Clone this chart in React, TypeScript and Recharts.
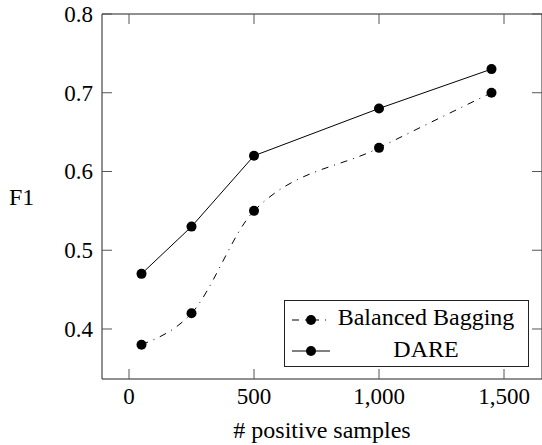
import React from 'react';
import { LineChart, Line, XAxis, YAxis, Legend } from 'recharts';

const samples = [50, 250, 500, 1000, 1450];
const baggingF1 = [0.38, 0.42, 0.55, 0.63, 0.7];
const dareF1 = [0.47, 0.53, 0.62, 0.68, 0.73];
const xTicks = [0, 500, 1000, 1500];
const yTicks = [0.4, 0.5, 0.6, 0.7, 0.8];
const seriesNames = ['Balanced Bagging', 'DARE'];
const xLabel = '# positive samples';
const yLabel = 'F1';

const data = samples.map((x, i) => ({ x, bagging: baggingF1[i], dare: dareF1[i] }));

const FONT = 'Liberation Serif, Times New Roman, serif';
const AXIS = '#222';
const TICK = '#555';
const TICK_LEN = 10;
const DASH = '7 6 1 6';
const FS = 23;
const txtStyle = { fontFamily: FONT, fontSize: FS };

const fmtX = (v: number) => v.toLocaleString('en-US');

const BottomTick = (props: any) => {
  const { x, y, payload } = props;
  return (
    <g>
      <line x1={x} x2={x} y1={y} y2={y - TICK_LEN} stroke={TICK} strokeWidth={1} />
      <text x={x} y={y + 25} textAnchor="middle" style={txtStyle} fill="#000">
        {fmtX(payload.value)}
      </text>
    </g>
  );
};

const TopTick = (props: any) => {
  const { x, y } = props;
  return <line x1={x} x2={x} y1={y} y2={y + TICK_LEN} stroke={TICK} strokeWidth={1} />;
};

const LeftTick = (props: any) => {
  const { x, y, payload } = props;
  return (
    <g>
      <line x1={x} x2={x + TICK_LEN} y1={y} y2={y} stroke={TICK} strokeWidth={1} />
      <text x={x - 9} y={y + 8} textAnchor="end" style={txtStyle} fill="#000">
        {Number(payload.value).toFixed(1)}
      </text>
    </g>
  );
};

const RightTick = (props: any) => {
  const { x, y } = props;
  return <line x1={x} x2={x - TICK_LEN} y1={y} y2={y} stroke={TICK} strokeWidth={1} />;
};

const LegendBox = (props: any) => {
  const payload = props.payload || [];
  return (
    <svg width={245} height={67} style={{ display: 'block' }}>
      <rect x={0.5} y={0.5} width={244} height={66} fill="#fff" stroke={AXIS} strokeWidth={1} />
      {payload.map((e: any, i: number) => {
        const cy = i === 0 ? 20 : 51;
        const ty = i === 0 ? 25 : 57;
        const dash = e.payload && e.payload.strokeDasharray;
        return (
          <g key={i}>
            <line x1={8} x2={46} y1={cy} y2={cy} stroke="#000" strokeWidth={1} strokeDasharray={dash} />
            <circle cx={27} cy={cy} r={5} fill="#000" />
            <text x={142} y={ty} textAnchor="middle" style={{ fontFamily: FONT, fontSize: 24 }} fill="#000">
              {e.value}
            </text>
          </g>
        );
      })}
    </svg>
  );
};

export default function App() {
  return (
    <div style={{ position: 'absolute', left: 0, top: 0, width: 542, height: 445, overflow: 'hidden', background: '#fff', fontFamily: FONT }}>
      <LineChart width={552} height={445} data={data} margin={{ top: 4, right: 0, left: 0, bottom: 0 }} style={{ fontFamily: FONT }}>
        <XAxis
          xAxisId="b"
          dataKey="x"
          type="number"
          domain={[-108, 1652]}
          ticks={xTicks}
          allowDataOverflow
          orientation="bottom"
          height={66}
          axisLine={{ stroke: AXIS, strokeWidth: 1 }}
          tickLine={false}
          tickSize={0}
          tickMargin={0}
          tick={<BottomTick />}
          interval={0}
          label={{ value: xLabel, position: 'insideBottom', offset: 7, style: { fontFamily: FONT, fontSize: 24 }, fill: '#000' }}
        />
        <XAxis
          xAxisId="t"
          dataKey="x"
          type="number"
          domain={[-108, 1652]}
          ticks={xTicks}
          allowDataOverflow
          orientation="top"
          height={10}
          axisLine={{ stroke: AXIS, strokeWidth: 1 }}
          tickLine={false}
          tickSize={0}
          tickMargin={0}
          tick={<TopTick />}
          interval={0}
        />
        <YAxis
          yAxisId="l"
          type="number"
          domain={[0.3365, 0.8]}
          ticks={yTicks}
          allowDataOverflow
          orientation="left"
          width={102}
          axisLine={{ stroke: AXIS, strokeWidth: 1 }}
          tickLine={false}
          tickSize={0}
          tickMargin={0}
          tick={<LeftTick />}
          interval={0}
          label={{ value: yLabel, position: 'insideLeft', offset: 9, style: { fontFamily: FONT, fontSize: 24 }, fill: '#000' }}
        />
        <YAxis
          yAxisId="r"
          type="number"
          domain={[0.3365, 0.8]}
          ticks={yTicks}
          allowDataOverflow
          orientation="right"
          width={10}
          axisLine={{ stroke: AXIS, strokeWidth: 1 }}
          tickLine={false}
          tickSize={0}
          tickMargin={0}
          tick={<RightTick />}
          interval={0}
        />
        <Line
          xAxisId="b"
          yAxisId="l"
          dataKey="bagging"
          name={seriesNames[0]}
          type="monotone"
          stroke="#000"
          strokeWidth={1}
          strokeDasharray={DASH}
          dot={{ r: 5, fill: '#000', stroke: 'none', strokeDasharray: '' }}
          activeDot={false}
          isAnimationActive={false}
        />
        <Line
          xAxisId="b"
          yAxisId="l"
          dataKey="dare"
          name={seriesNames[1]}
          type="linear"
          stroke="#000"
          strokeWidth={1}
          dot={{ r: 5, fill: '#000', stroke: 'none' }}
          activeDot={false}
          isAnimationActive={false}
        />
        <Legend
          layout="vertical"
          align="center"
          verticalAlign="middle"
          content={<LegendBox />}
          wrapperStyle={{ position: 'absolute', left: 284, top: 300, width: 245, height: 67, margin: 0, padding: 0 }}
        />
      </LineChart>
    </div>
  );
}
